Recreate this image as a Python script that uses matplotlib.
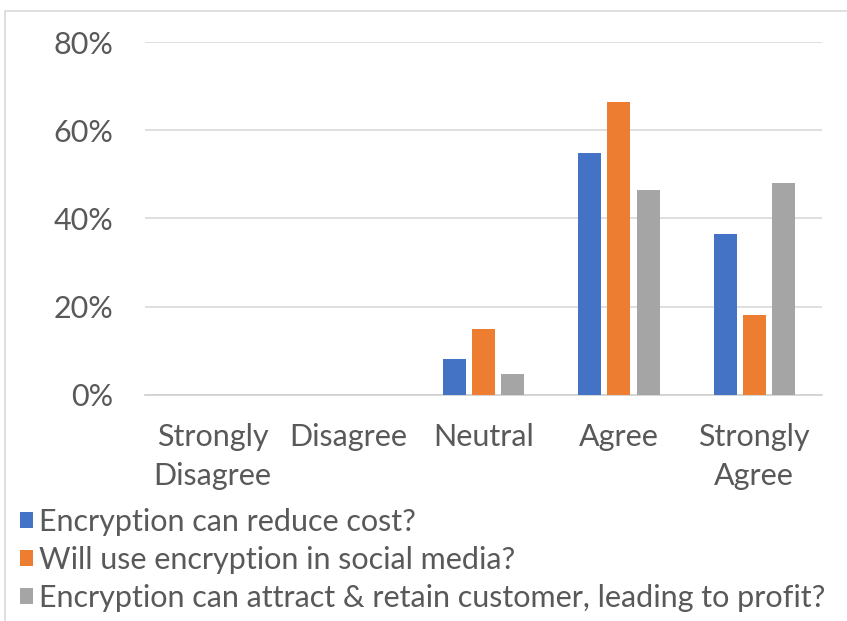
import numpy as np
import matplotlib.pyplot as plt
from matplotlib.patches import Rectangle
from matplotlib.ticker import PercentFormatter

categories = ["Strongly\nDisagree", "Disagree", "Neutral", "Agree", "Strongly\nAgree"]
series_names = [
    "Encryption can reduce cost?",
    "Will use encryption in social media?",
    "Encryption can attract & retain customer, leading to profit?",
]
reduce_cost = [0, 0, 8.1, 54.8, 36.4]
social_media = [0, 0, 14.9, 66.5, 18.1]
attract_retain = [0, 0, 4.8, 46.5, 48.0]
y_ticks = [0, 20, 40, 60, 80]

colors = ["#4472C4", "#ED7D31", "#A5A5A5"]
text_color = "#595959"

plt.rcParams["font.family"] = ["Lato", "DejaVu Sans"]

fig = plt.figure(figsize=(8.47, 6.21), dpi=100)
ax = fig.add_axes([145 / 847, 1 - 395 / 621, 677 / 847, 353 / 621])

# chart frame (cropped on right/bottom like the source)
fig.patches.append(Rectangle((5 / 847, -0.1), 1.2, 1 - 11 / 621 + 0.1,
                             transform=fig.transFigure, fill=False,
                             edgecolor="#d9d9d9", linewidth=1.2))

x = np.arange(len(categories))
w = 0.17
step = 0.215
handles = []
for i, vals in enumerate([reduce_cost, social_media, attract_retain]):
    b = ax.bar(x + (i - 1) * step, vals, width=w, color=colors[i], zorder=3)
    handles.append(b)

ax.set_xlim(-0.5, len(categories) - 0.5)
ax.set_ylim(0, 80)
ax.set_yticks(y_ticks)
ax.yaxis.set_major_formatter(PercentFormatter(decimals=0))
ax.set_xticks(x)
ax.set_xticklabels(categories, linespacing=1.5)
ax.tick_params(axis="both", length=0, labelsize=22, colors=text_color)
ax.tick_params(axis="y", pad=23)
ax.tick_params(axis="x", pad=20)
ax.grid(axis="y", color="#d9d9d9", linewidth=1.2, zorder=0)
for s in ["top", "right", "left"]:
    ax.spines[s].set_visible(False)
ax.spines["bottom"].set_color("#d0d0d0")
ax.spines["bottom"].set_linewidth(1.2)

leg = fig.legend(handles, series_names, loc="upper left",
                 bbox_to_anchor=(20 / 847, 1 - 508 / 621), frameon=False,
                 fontsize=22, handlelength=0.42, handleheight=0.42,
                 handletextpad=0.2, labelspacing=0.33, borderpad=0,
                 borderaxespad=0)
for t in leg.get_texts():
    t.set_color(text_color)

fig.savefig("out.png", dpi=100)
